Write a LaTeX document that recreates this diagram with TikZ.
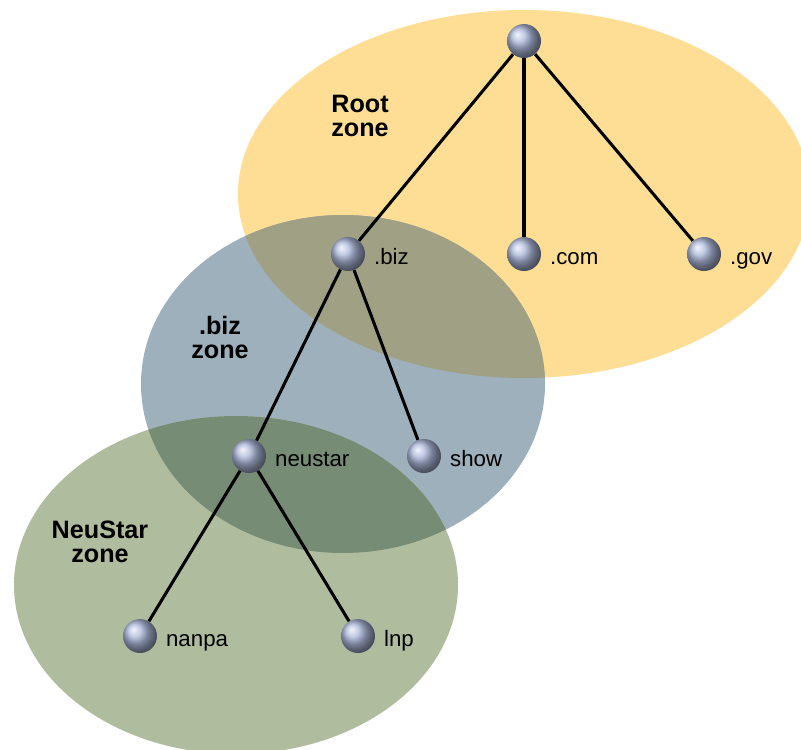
\documentclass[tikz,border=0pt]{standalone}
\usepackage{fontspec}
\setmainfont{Liberation Sans}
\usepackage{xcolor}
\usepackage{tikz}
\usetikzlibrary{positioning}

\definecolor{rootfill}{RGB}{253,222,148}
\definecolor{bizfill}{RGB}{158,176,187}
\definecolor{rootbizfill}{RGB}{160,160,132}
\definecolor{neufill}{RGB}{176,188,158}
\definecolor{bizneufill}{RGB}{118,140,116}
\definecolor{hostblue}{RGB}{172,184,218}

\newcommand{\rootzone}{(524,194) ellipse [x radius=286, y radius=184]}
\newcommand{\bizzone}{(343,384) ellipse [x radius=202, y radius=169]}
\newcommand{\neuzone}{(236,585) ellipse [x radius=222, y radius=169]}

\begin{document}
\begin{tikzpicture}[
    x=0.03cm, y=-0.03cm,
    on grid,
    host/.style={circle, minimum size=1.02cm, inner sep=0pt, ball color=hostblue},
    hostlbl/.style={anchor=base west, inner sep=0pt, label distance=0.26cm, yshift=-0.32cm,
                    font=\fontsize{19}{19}\selectfont},
    zonelbl/.style={align=center, inner sep=0pt, font=\bfseries\fontsize{21.5}{20.5}\selectfont},
    link/.style={line width=2.6pt}
]
  \useasboundingbox (0,0) rectangle (801,750);
  \fill[white] (0,0) rectangle (801,750);

  % Zones
  \begin{scope}
    \clip (0,0) rectangle (801,750);
    \fill[rootfill] \rootzone;
    \fill[bizfill] \bizzone;
    \begin{scope}
      \clip \rootzone;
      \fill[rootbizfill] \bizzone;
    \end{scope}
    \fill[neufill] \neuzone;
    \begin{scope}
      \clip \bizzone;
      \fill[bizneufill] \neuzone;
    \end{scope}
  \end{scope}

  \node[zonelbl] (rootlbl) at (360,116) {Root\\zone};
  \node[zonelbl] (bizlbl)  at (220,337) {.biz\\zone};
  \node[zonelbl] (neulbl)  at (100,542) {NeuStar\\zone};

  % Hosts
  \node[host] (root) at (524,41) {};
  \node[host, label={[hostlbl]right:.biz}] (biz) [below left=6.39cm and 5.28cm of root] {};
  \node[host, label={[hostlbl]right:.com}] (com) [below=6.39cm of root] {};
  \node[host, label={[hostlbl]right:.gov}] (gov) [below right=6.39cm and 5.4cm of root] {};
  \node[host, label={[hostlbl]right:neustar}] (neustar) [below left=6.06cm and 2.97cm of biz] {};
  \node[host, label={[hostlbl]right:show}] (show) [below right=6.06cm and 2.28cm of biz] {};
  \node[host, label={[hostlbl]right:nanpa}] (nanpa) [below left=5.4cm and 3.27cm of neustar] {};
  \node[host, label={[hostlbl]right:lnp}] (lnp) [below right=5.4cm and 3.27cm of neustar] {};

  % Links
  \path[link]
    (root) edge (biz)
           edge (com)
           edge (gov);
  \path[link]
    (biz) edge (neustar)
          edge (show);
  \path[link]
    (neustar) edge (nanpa)
              edge (lnp);
\end{tikzpicture}
\end{document}
